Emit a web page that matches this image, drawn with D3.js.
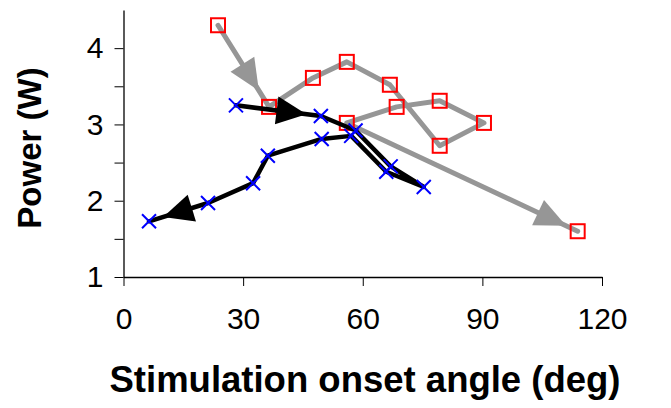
<!DOCTYPE html>
<html>
<head>
<meta charset="utf-8">
<script src="https://cdn.jsdelivr.net/npm/d3@7"></script>
<style>
  html, body { margin: 0; padding: 0; background: #fff; }
  svg { display: block; font-family: "Liberation Sans", Arial, sans-serif; }
</style>
</head>
<body>
<svg id="chart" width="671" height="408"></svg>
<script>
// Trajectory of stimulation onset angle vs. power, two sessions
const squareAngle = [23.7, 36.5, 47.5, 56.0, 66.8, 79.3, 90.4, 79.3, 68.5, 56.0, 113.9];
const squarePower = [4.30, 3.23, 3.61, 3.82, 3.52, 2.72, 3.02, 3.31, 3.23, 3.02, 1.60];

const crossAngle = [28.2, 49.5, 58.2, 67.0, 75.3, 65.9, 57.1, 49.7, 36.2, 32.5, 21.2, 6.4];
const crossPower = [3.25, 3.11, 2.92, 2.45, 2.18, 2.38, 2.85, 2.81, 2.59, 2.23, 1.97, 1.73];

const xTicks = [0, 30, 60, 90, 120];
const yTicks = [1, 1.5, 2, 2.5, 3, 3.5, 4];

const xTitle = "Stimulation onset angle (deg)";
const yTitle = "Power (W)";

const svg = d3.select("#chart");
const x = d3.scaleLinear().domain([0, 120]).range([123.5, 602]);
const y = d3.scaleLinear().domain([1, 4.5]).range([277, 10]);

const squares = squareAngle.map((a, i) => ({ a, p: squarePower[i] }));
const crosses = crossAngle.map((a, i) => ({ a, p: crossPower[i] }));

// Axes
const xAxis = d3.axisBottom(x).tickValues(xTicks).tickSize(9).tickSizeOuter(0).tickPadding(22);
const yAxis = d3.axisLeft(y).tickValues(yTicks).tickSize(9).tickSizeOuter(0).tickPadding(11)
  .tickFormat(d => Number.isInteger(d) ? d : "");

const gx = svg.append("g").attr("transform", `translate(0,${y(1)})`).call(xAxis);
const gy = svg.append("g").attr("transform", `translate(${x(0)},0)`).call(yAxis);
[gx, gy].forEach(g => {
  g.select(".domain").attr("stroke", "#000").attr("stroke-width", 1.3);
  g.selectAll(".tick line").attr("stroke", "#000").attr("stroke-width", 1);
  g.selectAll(".tick text").attr("fill", "#000").attr("font-size", 30)
    .attr("font-family", "'Liberation Sans', Arial, sans-serif");
});

// Arrowheads sit on a segment, tip at a fraction of its length
function arrowHead(p0, p1, t, len, half) {
  const x0 = x(p0.a), y0 = y(p0.p), x1 = x(p1.a), y1 = y(p1.p);
  const dx = x1 - x0, dy = y1 - y0, L = Math.hypot(dx, dy);
  const ux = dx / L, uy = dy / L;
  const tx = x0 + dx * t, ty = y0 + dy * t;
  const bx = tx - ux * len, by = ty - uy * len;
  return `M${tx},${ty}L${bx - uy * half},${by + ux * half}L${bx + uy * half},${by - ux * half}Z`;
}

const line = d3.line().x(d => x(d.a)).y(d => y(d.p));
const gray = "#969696";

// Grey path with square markers
svg.append("path").datum(squares).attr("d", line)
  .attr("fill", "none").attr("stroke", gray).attr("stroke-width", 5)
  .attr("stroke-linejoin", "round").attr("stroke-linecap", "round");
[[0, 0.80], [9, 0.95]].forEach(([i, t]) => {
  svg.append("path").attr("d", arrowHead(squares[i], squares[i + 1], t, 31, 14)).attr("fill", gray);
});
const sq = 14;
svg.append("g").selectAll("rect").data(squares).join("rect")
  .attr("x", d => x(d.a) - sq / 2).attr("y", d => y(d.p) - sq / 2)
  .attr("width", sq).attr("height", sq)
  .attr("fill", "none").attr("stroke", "#ff0000").attr("stroke-width", 2);

// Black path with cross markers
svg.append("path").datum(crosses).attr("d", line)
  .attr("fill", "none").attr("stroke", "#000").attr("stroke-width", 4.5)
  .attr("stroke-linejoin", "round").attr("stroke-linecap", "round");
[[0, 0.83], [10, 0.76]].forEach(([i, t]) => {
  svg.append("path").attr("d", arrowHead(crosses[i], crosses[i + 1], t, 30, 14)).attr("fill", "#000");
});
const cr = 7;
svg.append("g").selectAll("path").data(crosses).join("path")
  .attr("d", d => {
    const cx = x(d.a), cy = y(d.p);
    return `M${cx - cr},${cy - cr}L${cx + cr},${cy + cr}M${cx - cr},${cy + cr}L${cx + cr},${cy - cr}`;
  })
  .attr("fill", "none").attr("stroke", "#0000ff").attr("stroke-width", 2);

// Titles
svg.append("text").attr("x", 365).attr("y", 392).attr("text-anchor", "middle")
  .attr("font-size", 36.5).attr("font-weight", "bold").attr("fill", "#000").text(xTitle);
svg.append("text").attr("transform", "translate(41,148) rotate(-90)").attr("text-anchor", "middle")
  .attr("font-size", 33).attr("font-weight", "bold").attr("fill", "#000").text(yTitle);
</script>
</body>
</html>
